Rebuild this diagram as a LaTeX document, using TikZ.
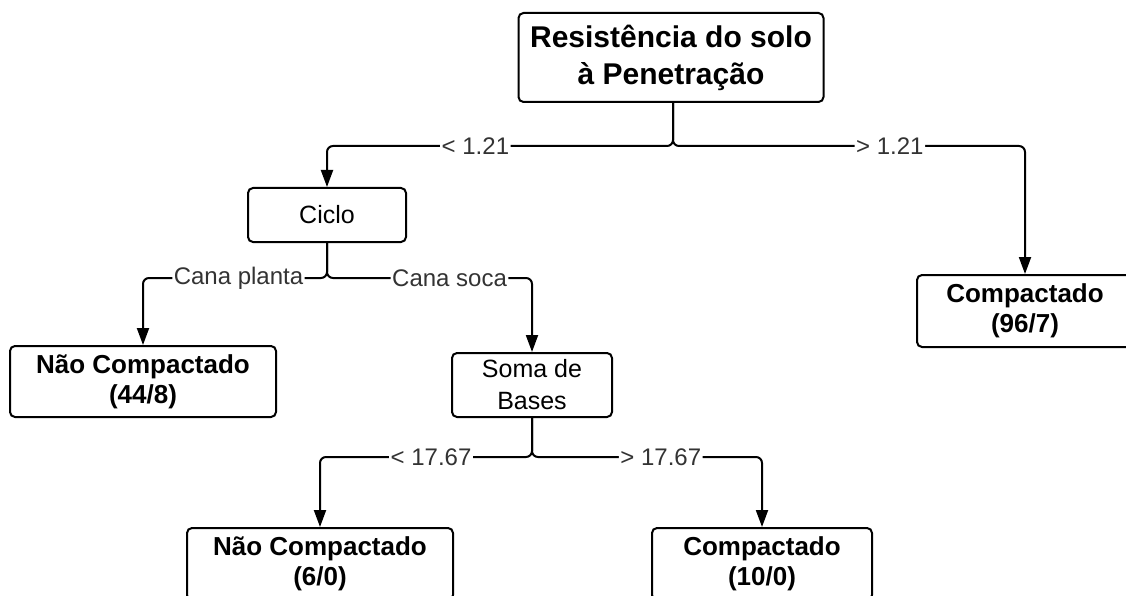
\documentclass[tikz,border=0pt]{standalone}
\usepackage{fontspec}
\setmainfont{Liberation Sans}
\usetikzlibrary{arrows.meta}
\definecolor{lblgray}{HTML}{333333}
\begin{document}
\begin{tikzpicture}[x=1pt,y=-1pt,
  box/.style={draw=black, line width=2pt, rounded corners=5pt, align=center, inner sep=0pt, fill=white},
  leafbox/.style={box, font=\fontsize{26}{30}\selectfont\bfseries},
  testbox/.style={box, font=\fontsize{25}{32}\selectfont},
  conn/.style={draw=black, line width=2pt, rounded corners=6pt, -{Triangle[length=17pt,width=12pt]}},
  lbl/.style={fill=white, text=lblgray, inner sep=1.5pt, font=\fontsize{24}{28}\selectfont}
]
\useasboundingbox (0,0) rectangle (1126,596);

\node[box, font=\fontsize{30}{37}\selectfont\bfseries, minimum width=305pt, minimum height=89pt] (root) at (671,57.5) {Resistência do solo\\à Penetração};
\node[testbox, minimum width=158pt, minimum height=54pt] (ciclo) at (327,215) {Ciclo};
\node[leafbox, minimum width=266pt, minimum height=71pt] (nao1) at (143,381.5) {Não Compactado\\(44/8)};
\node[testbox, minimum width=160pt, minimum height=64pt] (soma) at (532,385) {Soma de\\Bases};
\node[leafbox, minimum width=216pt, minimum height=72pt] (comp1) at (1025,311) {Compactado\\(96/7)};
\node[leafbox, minimum width=266pt, minimum height=72pt] (nao2) at (320,564) {Não Compactado\\(6/0)};
\node[leafbox, minimum width=220pt, minimum height=72pt] (comp2) at (762,564) {Compactado\\(10/0)};

\coordinate (j1) at (673,146);
\coordinate (j2) at (327,278);
\coordinate (j3) at (532,457);

\draw[conn] (j1 |- root.south) -- (j1) -| node[lbl, pos=0.2855] {< 1.21} (ciclo.north);
\draw[conn] (j1 |- root.south) -- (j1) -| node[lbl, pos=0.308] {> 1.21} (comp1.north);
\draw[conn] (ciclo.south) -- (j2) -| node[lbl, pos=0.2405] {Cana planta} (nao1.north);
\draw[conn] (ciclo.south) -- (j2) -| node[lbl, pos=0.299] {Cana soca} (soma.north);
\draw[conn] (soma.south) -- (j3) -| node[lbl, pos=0.238] {< 17.67} (nao2.north);
\draw[conn] (soma.south) -- (j3) -| node[lbl, pos=0.280] {> 17.67} (comp2.north);
\end{tikzpicture}
\end{document}
